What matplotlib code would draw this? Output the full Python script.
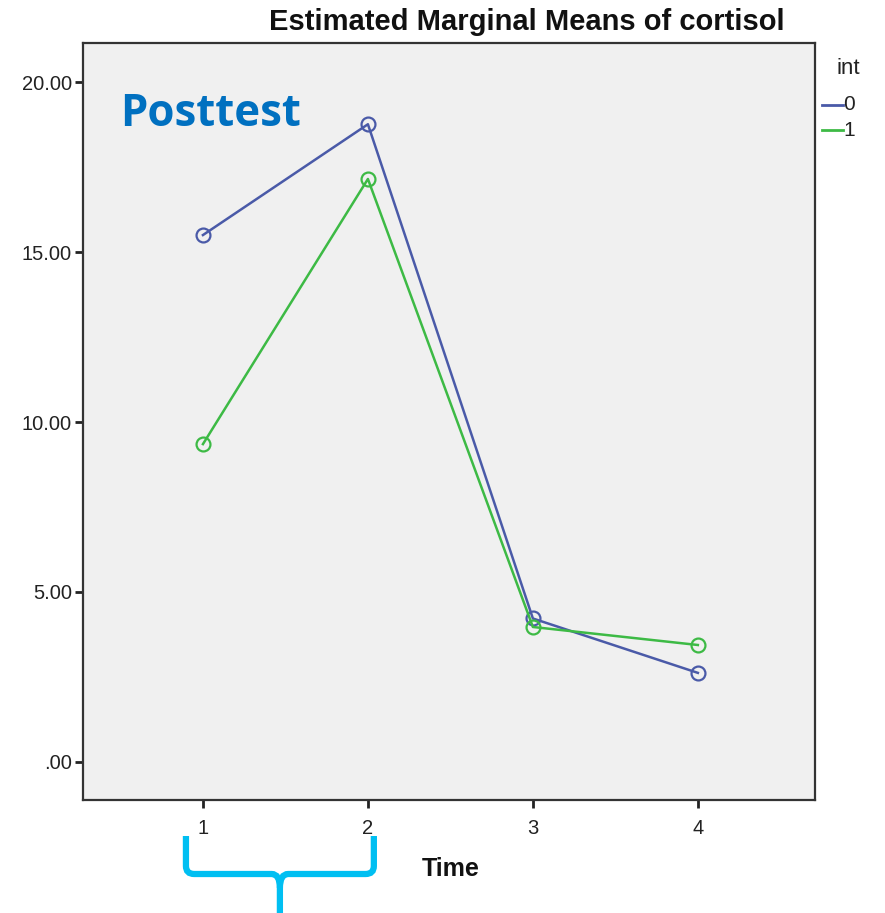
import matplotlib
matplotlib.use('Agg')
import matplotlib.pyplot as plt
from matplotlib.path import Path
from matplotlib.patches import PathPatch
import matplotlib.transforms as mtransforms

TIME = [1, 2, 3, 4]
INT0 = [15.50, 18.76, 4.22, 2.62]
INT1 = [9.35, 17.15, 3.97, 3.44]
Y_TICKS = [0, 5, 10, 15, 20]
Y_LABELS = ['.00', '5.00', '10.00', '15.00', '20.00']
GROUP_LABELS = ['0', '1']

COLOR_0 = '#4a5aa8'
COLOR_1 = '#3dba45'
BRACKET = '#00bff2'

plt.rcParams['font.family'] = ['Liberation Sans', 'DejaVu Sans']

fig = plt.figure(figsize=(8.85, 9.13), dpi=100)
ax = fig.add_axes([83 / 885, 1 - 800 / 913, 732 / 885, 757 / 913])
ax.set_facecolor('#f0f0f0')

for vals, color in [(INT0, COLOR_0), (INT1, COLOR_1)]:
    ax.plot(TIME, vals, color=color, linewidth=1.8, marker='o', markersize=10,
            markerfacecolor='none', markeredgecolor=color, markeredgewidth=1.6)

ax.set_xlim(0.273, 4.71)
ax.set_ylim(-1.12, 21.15)
ax.set_xticks(TIME)
ax.set_xticklabels([str(t) for t in TIME])
ax.set_yticks(Y_TICKS)
ax.set_yticklabels(Y_LABELS)
ax.tick_params(axis='both', length=6, width=2, color='#222222', labelsize=14.5,
               labelcolor='#222222', pad=2)
ax.tick_params(axis='x', pad=8)
for sp in ax.spines.values():
    sp.set_color('#333333')
    sp.set_linewidth(1.6)

fig.text(527 / 885, 1 - 22 / 913, 'Estimated Marginal Means of cortisol',
         ha='center', va='center', fontsize=21, fontweight='bold', color='#111111')
fig.text(451 / 885, 1 - 869 / 913, 'Time', ha='center', va='center',
         fontsize=18, fontweight='bold', color='#111111')
ax.text(0.051, 0.905, 'Posttest', transform=ax.transAxes, ha='left', va='center',
        fontsize=31.5, fontweight='bold', color='#0070c0',
        family=['Open Sans', 'DejaVu Sans'])

# legend drawn outside the axes, on the right
fig.text(848 / 885, 1 - 68 / 913, 'int', ha='center', va='center', fontsize=16, color='#222222')
for i, (lab, color) in enumerate(zip(GROUP_LABELS, [COLOR_0, COLOR_1])):
    y = 1 - (105 + 25 * i) / 913
    fig.add_artist(plt.Line2D([822 / 885, 843 / 885], [y, y], color=color, linewidth=2))
    fig.text(843 / 885, y, lab, ha='left', va='center', fontsize=15, color='#222222')

# cyan curly bracket under Time 1-2
trans = mtransforms.blended_transform_factory(ax.transData, fig.transFigure)
x_l, x_r = 0.897, 2.036
x_m = (x_l + x_r) / 2


def fy(py):
    return 1 - py / 913


verts = [
    (x_l, fy(836)), (x_l, fy(866)), (x_l, fy(874)), (x_l + 0.05, fy(874)),
    (x_m - 0.05, fy(874)), (x_m, fy(874)), (x_m, fy(888)),
    (x_m, fy(913)),
]
codes = [Path.MOVETO, Path.LINETO, Path.CURVE3, Path.CURVE3,
         Path.LINETO, Path.CURVE3, Path.CURVE3, Path.LINETO]
verts2 = [
    (x_r, fy(836)), (x_r, fy(866)), (x_r, fy(874)), (x_r - 0.05, fy(874)),
    (x_m + 0.05, fy(874)), (x_m, fy(874)), (x_m, fy(888)),
]
codes2 = [Path.MOVETO, Path.LINETO, Path.CURVE3, Path.CURVE3,
          Path.LINETO, Path.CURVE3, Path.CURVE3]
for v, c in [(verts, codes), (verts2, codes2)]:
    patch = PathPatch(Path(v, c), transform=trans, facecolor='none',
                      edgecolor=BRACKET, linewidth=4.5, clip_on=False)
    fig.add_artist(patch)

fig.savefig('out.png', dpi=100)
